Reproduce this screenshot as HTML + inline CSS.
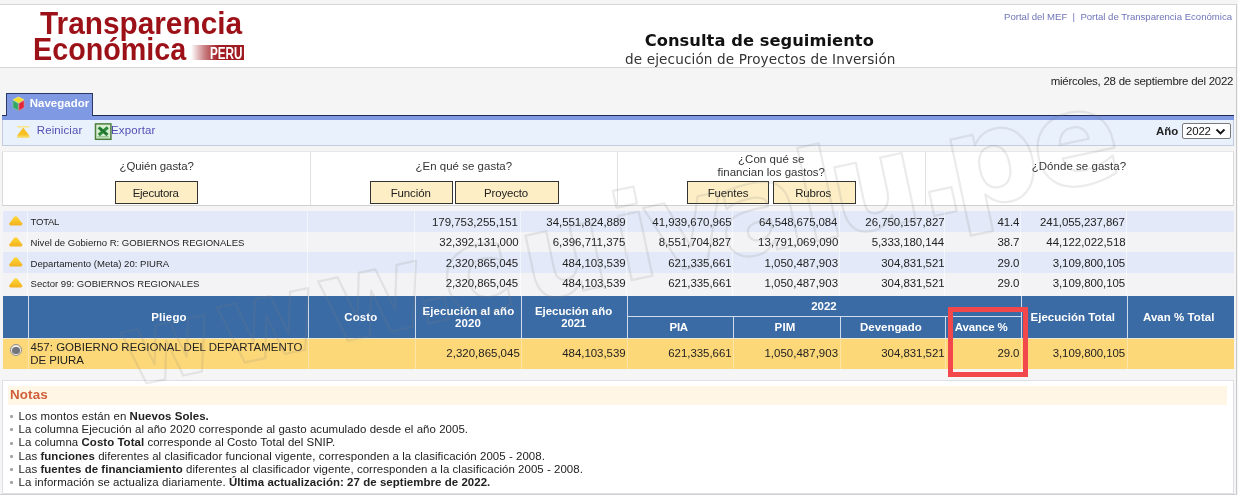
<!DOCTYPE html>
<html lang="es">
<head>
<meta charset="utf-8">
<title>Consulta de seguimiento de ejecución de Proyectos de Inversión</title>
<style>
*{box-sizing:border-box;margin:0;padding:0}
html,body{width:1238px;height:495px;overflow:hidden;background:#f5f5f5}
body{position:relative;font-family:"Liberation Sans",Arial,sans-serif;font-size:12px;color:#222}
.abs,.t{position:absolute;white-space:nowrap}
.t{transform-origin:0 0}
#hdr{left:0;top:4px;width:1237px;height:64px;background:#fff;border:1px solid #d6d6d6;border-left:0}
#tab{left:6px;top:93px;width:87px;height:23px;background:#7f99e2;border:1px solid #2c3766;border-bottom:0}
#tabline{left:2px;top:115px;width:1232px;height:5px;background:#7f99e2;border-top:1px solid #1d2a55}
#tool{left:2px;top:120px;width:1232px;height:26px;background:#e9f1fc;border:1px solid #c3cddd;border-top:0}
#panel{left:2px;top:151px;width:1232px;height:55px;background:#fff;border:1px solid #dcdcdc;border-top-color:#e8e8e8;border-bottom-color:#d0d0d0}
.btn{background:#fdeec5;border:1px solid #333;height:23px;top:181px}
.vd{width:1px;background:#e0e0e0;top:152px;height:53px}
.row{left:3px;width:1231px}
.r1{background:#e3e9f8}.r2{background:#f3f3f6}
.rd{top:211px;width:1px;height:85px;background:rgba(255,255,255,.55)}
#th{left:3px;top:296px;width:1231px;height:42px;background:#3a6ba5}
.hd{width:1px;background:#cfdcee}
#sel{left:3px;top:338px;width:1231px;height:31px;background:#fdd878;border-top:1px solid #ece6d4}
.sd{top:339px;width:1px;height:30px;background:rgba(255,255,255,.35)}
#notes{left:2px;top:380px;width:1232px;height:114px;background:#fff;border:1px solid #dde0e6}
#nb{left:8px;top:386px;width:1219px;height:19px;background:#fff6e6}
.bu{left:10px;width:3px;height:3px;background:#a4a4a4;border-radius:1px}
#red{left:948px;top:307px;width:80px;height:70px;border:5px solid #f2474b}
.f0{font:bold 32px/1 "Liberation Sans",Arial,sans-serif;color:#9c1118}
.f1{font:bold 16px/1 "Liberation Sans",Arial,sans-serif;color:#fff}
.f2{font:bold 16.3px/1 "DejaVu Sans","Liberation Sans",sans-serif;color:#111}
.f3{font:normal 13.6px/1 "DejaVu Sans","Liberation Sans",sans-serif;color:#333}
.f4{font:normal 9.6px/1 "Liberation Sans",Arial,sans-serif;color:#6f74b8}
.f5{font:normal 11.46px/1 "Liberation Sans",Arial,sans-serif;color:#222}
.f6{font:bold 11.46px/1 "Liberation Sans",Arial,sans-serif;color:#fff}
.f7{font:normal 11.46px/1 "Liberation Sans",Arial,sans-serif;color:#5250b4}
.f8{font:bold 11.46px/1 "Liberation Sans",Arial,sans-serif;color:#222}
.f9{font:normal 11.46px/1 "Liberation Sans",Arial,sans-serif;color:#111}
.f10{font:normal 11.46px/1 "Liberation Sans",Arial,sans-serif;color:#333}
.f11{font:normal 9.55px/1 "Liberation Sans",Arial,sans-serif;color:#222}
.f12{font:bold 13.4px/1 "Liberation Sans",Arial,sans-serif;color:#d0603a}
</style>
</head>
<body>
<svg width="0" height="0" style="position:absolute"><defs><linearGradient id="gy" x1="0" y1="0" x2="0" y2="1"><stop offset="0" stop-color="#fdd835"/><stop offset="1" stop-color="#f2b01e"/></linearGradient></defs></svg>
<div class="abs" id="hdr"></div>
<div class="abs" id="peru" style="left:191px;top:44.5px;width:53px;height:15.5px;background:linear-gradient(90deg,rgba(160,28,34,0) 0%,rgba(160,28,34,.55) 25%,#a01c22 52%)"></div>

<div class="abs" id="tabline"></div>
<div class="abs" id="tab"></div>
<div class="abs" id="tool"></div>
<svg class="abs" style="left:12px;top:96px" width="13" height="16" viewBox="0 0 13 16"><path d="M6.5 1 L12 3.8 L6.5 7 L1 3.8Z" fill="#f3de2a" stroke="#f6ea7a" stroke-width=".8" stroke-linejoin="round"/><path d="M1 4.4 L6.2 7.5 L6.2 14.6 L1 11.6Z" fill="#33a865" stroke="#7fcf9c" stroke-width=".6" stroke-linejoin="round"/><path d="M12 4.4 L6.9 7.5 L6.9 14.6 L12 11.6Z" fill="#e0243a" stroke="#f08a8a" stroke-width=".6" stroke-linejoin="round"/></svg>
<svg class="abs" style="left:16px;top:125px" width="15" height="14" viewBox="0 0 15 14"><rect x="1.2" y="1" width="12" height="1.6" rx=".6" fill="#fbe48a"/><path d="M7.2 3.2 L12.6 10.4 L1.8 10.4Z" fill="#f6c022" stroke="#f6c022" stroke-width="1" stroke-linejoin="round"/><rect x="1" y="10.4" width="12.6" height="2.4" rx="1" fill="#f9d75a"/></svg>
<svg class="abs" style="left:94px;top:123px" width="18" height="18" viewBox="0 0 18 18"><rect x="1.5" y=".9" width="15.4" height="15.4" fill="#d9eed2" stroke="#4d7f3c" stroke-width="1.5"/><path d="M4.6 4.4 L13.6 12 M13.8 4.4 L4.8 12" stroke="#2f8a3c" stroke-width="3.2"/><path d="M6 5.4 L12.4 11 " stroke="#1f6e2c" stroke-width="1.6"/><path d="M3.5 13.8 L14.8 13.8" stroke="#7fb97a" stroke-width="1"/></svg>
<div class="abs" id="selbox" style="left:1182px;top:123.4px;width:48.6px;height:15.6px;background:#fff;border:1px solid #7a7a7a;border-radius:2px"></div>
<svg class="abs" style="left:1215px;top:128px" width="11" height="8" viewBox="0 0 11 8"><path d="M1.5 1.5 L5.5 5.5 L9.5 1.5" fill="none" stroke="#111" stroke-width="1.8"/></svg>

<div class="abs" id="panel"></div>
<div class="abs vd" style="left:310px"></div>
<div class="abs vd" style="left:617px"></div>
<div class="abs vd" style="left:925px"></div>
<div class="abs btn" style="left:115px;width:83px"></div>
<div class="abs btn" style="left:370px;width:83px"></div>
<div class="abs btn" style="left:455px;width:104px"></div>
<div class="abs btn" style="left:687px;width:82px"></div>
<div class="abs btn" style="left:773px;width:83px"></div>

<div class="abs row r1" style="top:211px;height:21px"></div>
<svg class="abs" style="left:8px;top:216.4px" width="15" height="10" viewBox="-0.5 0 14.5 10" preserveAspectRatio="none"><path d="M7 0.3 Q8 0.3 9 1.6 L13.2 7.2 Q13.6 9.6 12 9.6 L2 9.6 Q0.4 9.6 0.8 7.2 L5 1.6 Q6 0.3 7 0.3Z" fill="url(#gy)"/></svg>
<div class="abs row r2" style="top:232px;height:20px"></div>
<svg class="abs" style="left:8px;top:237px" width="15" height="10" viewBox="-0.5 0 14.5 10" preserveAspectRatio="none"><path d="M7 0.3 Q8 0.3 9 1.6 L13.2 7.2 Q13.6 9.6 12 9.6 L2 9.6 Q0.4 9.6 0.8 7.2 L5 1.6 Q6 0.3 7 0.3Z" fill="url(#gy)"/></svg>
<div class="abs row r1" style="top:252px;height:21px"></div>
<svg class="abs" style="left:8px;top:257.4px" width="15" height="10" viewBox="-0.5 0 14.5 10" preserveAspectRatio="none"><path d="M7 0.3 Q8 0.3 9 1.6 L13.2 7.2 Q13.6 9.6 12 9.6 L2 9.6 Q0.4 9.6 0.8 7.2 L5 1.6 Q6 0.3 7 0.3Z" fill="url(#gy)"/></svg>
<div class="abs row r2" style="top:273px;height:23px"></div>
<svg class="abs" style="left:8px;top:278px" width="15" height="10" viewBox="-0.5 0 14.5 10" preserveAspectRatio="none"><path d="M7 0.3 Q8 0.3 9 1.6 L13.2 7.2 Q13.6 9.6 12 9.6 L2 9.6 Q0.4 9.6 0.8 7.2 L5 1.6 Q6 0.3 7 0.3Z" fill="url(#gy)"/></svg>
<div class="abs rd" style="left:27px"></div>
<div class="abs rd" style="left:307px"></div>
<div class="abs rd" style="left:414px"></div>
<div class="abs rd" style="left:520px"></div>
<div class="abs rd" style="left:626px"></div>
<div class="abs rd" style="left:732px"></div>
<div class="abs rd" style="left:839px"></div>
<div class="abs rd" style="left:944px"></div>
<div class="abs rd" style="left:1020px"></div>
<div class="abs rd" style="left:1126px"></div>
<div class="abs" id="th"></div>
<div class="abs" style="left:627px;top:316px;width:394px;height:1px;background:#cfdcee"></div>
<div class="abs" id="sel"></div>
<div class="abs hd" style="left:28px;top:296px;height:42px"></div>
<div class="abs sd" style="left:28px"></div>
<div class="abs hd" style="left:308px;top:296px;height:42px"></div>
<div class="abs sd" style="left:308px"></div>
<div class="abs hd" style="left:415px;top:296px;height:42px"></div>
<div class="abs sd" style="left:415px"></div>
<div class="abs hd" style="left:521px;top:296px;height:42px"></div>
<div class="abs sd" style="left:521px"></div>
<div class="abs hd" style="left:627px;top:296px;height:42px"></div>
<div class="abs sd" style="left:627px"></div>
<div class="abs hd" style="left:733px;top:316px;height:22px"></div>
<div class="abs sd" style="left:733px"></div>
<div class="abs hd" style="left:840px;top:316px;height:22px"></div>
<div class="abs sd" style="left:840px"></div>
<div class="abs hd" style="left:945px;top:316px;height:22px"></div>
<div class="abs sd" style="left:945px"></div>
<div class="abs hd" style="left:1021px;top:296px;height:42px"></div>
<div class="abs sd" style="left:1021px"></div>
<div class="abs hd" style="left:1127px;top:296px;height:42px"></div>
<div class="abs sd" style="left:1127px"></div>
<div class="abs" style="left:9.8px;top:343.9px;width:12.5px;height:12.5px;border-radius:50%;border:1.2px solid #8c8c8c;background:#f3efe6"></div><div class="abs" style="left:12.4px;top:346.5px;width:7.3px;height:7.3px;border-radius:50%;background:#73737a"></div>
<div class="abs" id="notes"></div>
<div class="abs" id="nb"></div>
<div class="abs bu" style="top:415px"></div>
<div class="abs bu" style="top:428px"></div>
<div class="abs bu" style="top:442px"></div>
<div class="abs bu" style="top:455px"></div>
<div class="abs bu" style="top:468px"></div>
<div class="abs bu" style="top:481px"></div>
<div class="t f0" style="left:40px;top:7px;transform:scaleX(0.9312)">Transparencia</div>
<div class="t f0" style="left:33.2px;top:33px;transform:scaleX(0.8976)">Económica</div>
<div class="t f1" style="left:210.27px;top:46px;transform:scaleX(0.7302)">PERU</div>
<div class="t f2" style="left:644.75px;top:33px;letter-spacing:0.045px">Consulta de seguimiento</div>
<div class="t f3" style="left:625px;top:53px;letter-spacing:0.122px">de ejecución de Proyectos de Inversión</div>
<div class="t f4" style="left:1004px;top:12px;letter-spacing:-0.01px">Portal del MEF &nbsp;|&nbsp; Portal de Transparencia Económica</div>
<div class="t f5" style="left:1050.7px;top:76px;letter-spacing:-0.234px">miércoles, 28 de septiembre del 2022</div>
<div class="t f6" style="left:29.7px;top:98px;letter-spacing:0.05px">Navegador</div>
<div class="t f7" style="left:36.8px;top:125px;letter-spacing:0.113px">Reiniciar</div>
<div class="t f7" style="left:111px;top:125px;letter-spacing:0.143px">Exportar</div>
<div class="t f8" style="left:1156px;top:126px">Año</div>
<div class="t f9" style="left:1186px;top:126px;letter-spacing:-0.167px">2022</div>
<div class="t f10" style="left:119.5px;top:161px;letter-spacing:-0.062px">¿Quién gasta?</div>
<div class="t f10" style="left:415.5px;top:161px;letter-spacing:0.031px">¿En qué se gasta?</div>
<div class="t f10" style="left:738px;top:154px;letter-spacing:0.075px">¿Con qué se</div>
<div class="t f10" style="left:717.5px;top:167px;letter-spacing:0.025px">financian los gastos?</div>
<div class="t f10" style="left:1031.75px;top:161px;letter-spacing:0.05px">¿Dónde se gasta?</div>
<div class="t f5" style="left:132.75px;top:188px;letter-spacing:-0.281px">Ejecutora</div>
<div class="t f5" style="left:390.75px;top:188px;letter-spacing:-0.125px">Función</div>
<div class="t f5" style="left:484px;top:188px;letter-spacing:-0.143px">Proyecto</div>
<div class="t f5" style="left:707.75px;top:188px;letter-spacing:-0.125px">Fuentes</div>
<div class="t f5" style="left:795.25px;top:188px;letter-spacing:-0.2px">Rubros</div>
<div class="t f11" style="left:30.6px;top:217px;letter-spacing:-0.275px">TOTAL</div>
<div class="t f5" style="left:431.92px;top:217px;letter-spacing:0.006px">179,753,255,151</div>
<div class="t f5" style="left:546.29px;top:217px;letter-spacing:-0.022px">34,551,824,889</div>
<div class="t f5" style="left:652.29px;top:217px;letter-spacing:-0.022px">41,939,670,965</div>
<div class="t f5" style="left:759.09px;top:217px;letter-spacing:-0.099px">64,548,675,084</div>
<div class="t f5" style="left:865.29px;top:217px;letter-spacing:-0.022px">26,750,157,827</div>
<div class="t f5" style="left:997.61px;top:217px;letter-spacing:-0.203px">41.4</div>
<div class="t f5" style="left:1039.92px;top:217px;letter-spacing:-0.066px">241,055,237,867</div>
<div class="t f11" style="left:30.6px;top:238px">Nivel de Gobierno R: GOBIERNOS REGIONALES</div>
<div class="t f5" style="left:439.29px;top:237px;letter-spacing:-0.022px">32,392,131,000</div>
<div class="t f5" style="left:552.66px;top:237px;letter-spacing:0.028px">6,396,711,375</div>
<div class="t f5" style="left:658.66px;top:237px;letter-spacing:-0.055px">8,551,704,827</div>
<div class="t f5" style="left:758.09px;top:237px;letter-spacing:0.055px">13,791,069,090</div>
<div class="t f5" style="left:871.66px;top:237px;letter-spacing:-0.055px">5,333,180,144</div>
<div class="t f5" style="left:997.61px;top:237px;letter-spacing:-0.203px">38.7</div>
<div class="t f5" style="left:1046.29px;top:237px;letter-spacing:-0.022px">44,122,022,518</div>
<div class="t f11" style="left:30.6px;top:259px;letter-spacing:0.005px">Departamento (Meta) 20: PIURA</div>
<div class="t f5" style="left:445.66px;top:258px;letter-spacing:-0.055px">2,320,865,045</div>
<div class="t f5" style="left:562.21px;top:258px;letter-spacing:-0.021px">484,103,539</div>
<div class="t f5" style="left:668.21px;top:258px;letter-spacing:-0.021px">621,335,661</div>
<div class="t f5" style="left:764.46px;top:258px;letter-spacing:0.028px">1,050,487,903</div>
<div class="t f5" style="left:881.21px;top:258px;letter-spacing:-0.021px">304,831,521</div>
<div class="t f5" style="left:997.61px;top:258px;letter-spacing:-0.203px">29.0</div>
<div class="t f5" style="left:1052.66px;top:258px;letter-spacing:-0.055px">3,109,800,105</div>
<div class="t f11" style="left:30.6px;top:279px;letter-spacing:0.005px">Sector 99: GOBIERNOS REGIONALES</div>
<div class="t f5" style="left:445.66px;top:278px;letter-spacing:-0.055px">2,320,865,045</div>
<div class="t f5" style="left:562.21px;top:278px;letter-spacing:-0.021px">484,103,539</div>
<div class="t f5" style="left:668.21px;top:278px;letter-spacing:-0.021px">621,335,661</div>
<div class="t f5" style="left:764.46px;top:278px;letter-spacing:0.028px">1,050,487,903</div>
<div class="t f5" style="left:881.21px;top:278px;letter-spacing:-0.021px">304,831,521</div>
<div class="t f5" style="left:997.61px;top:278px;letter-spacing:-0.203px">29.0</div>
<div class="t f5" style="left:1052.66px;top:278px;letter-spacing:-0.055px">3,109,800,105</div>
<div class="t f5" style="left:446.36px;top:348px;letter-spacing:0.012px">2,320,865,045</div>
<div class="t f5" style="left:562.21px;top:348px;letter-spacing:-0.021px">484,103,539</div>
<div class="t f5" style="left:668.21px;top:348px;letter-spacing:-0.021px">621,335,661</div>
<div class="t f5" style="left:764.46px;top:348px;letter-spacing:0.028px">1,050,487,903</div>
<div class="t f5" style="left:881.21px;top:348px;letter-spacing:-0.021px">304,831,521</div>
<div class="t f5" style="left:997.61px;top:348px;letter-spacing:-0.203px">29.0</div>
<div class="t f5" style="left:1052.66px;top:348px;letter-spacing:-0.055px">3,109,800,105</div>
<div class="t f6" style="left:151.25px;top:312px;letter-spacing:0.2px">Pliego</div>
<div class="t f6" style="left:344.25px;top:312px;letter-spacing:0.125px">Costo</div>
<div class="t f6" style="left:422.5px;top:306px;letter-spacing:0.083px">Ejecución al año</div>
<div class="t f6" style="left:455px;top:318px;letter-spacing:0.167px">2020</div>
<div class="t f6" style="left:535px;top:306px;letter-spacing:-0.042px">Ejecución año</div>
<div class="t f6" style="left:561.25px;top:318px;letter-spacing:-0.167px">2021</div>
<div class="t f6" style="left:811.25px;top:301px">2022</div>
<div class="t f6" style="left:669.5px;top:322px;letter-spacing:-0.25px">PIA</div>
<div class="t f6" style="left:774.5px;top:322px;letter-spacing:0.25px">PIM</div>
<div class="t f6" style="left:860px;top:322px">Devengado</div>
<div class="t f6" style="left:954.75px;top:322px;letter-spacing:-0.107px">Avance %</div>
<div class="t f6" style="left:1030.5px;top:312px;letter-spacing:0.054px">Ejecución Total</div>
<div class="t f6" style="left:1143px;top:312px;letter-spacing:0.068px">Avan % Total</div>
<div class="t f5" style="left:30.5px;top:342px;letter-spacing:0.033px">457: GOBIERNO REGIONAL DEL DEPARTAMENTO</div>
<div class="t f5" style="left:30.3px;top:355px;letter-spacing:-0.079px">DE PIURA</div>
<div class="t f12" style="left:10px;top:388px;letter-spacing:0.125px">Notas</div>
<div class="t f5" style="left:18.6px;top:411px;letter-spacing:0.075px">Los montos están en <b>Nuevos Soles.</b></div>
<div class="t f5" style="left:18.6px;top:424px;letter-spacing:0.054px">La columna Ejecución al año 2020 corresponde al gasto acumulado desde el año 2005.</div>
<div class="t f5" style="left:18.6px;top:437px;letter-spacing:0.047px">La columna <b>Costo Total</b> corresponde al Costo Total del SNIP.</div>
<div class="t f5" style="left:18.6px;top:451px;letter-spacing:0.047px">Las <b>funciones</b> diferentes al clasificador funcional vigente, corresponden a la clasificación 2005 - 2008.</div>
<div class="t f5" style="left:18.6px;top:464px;letter-spacing:0.043px">Las <b>fuentes de financiamiento</b> diferentes al clasificador vigente, corresponden a la clasificación 2005 - 2008.</div>
<div class="t f5" style="left:18.6px;top:477px;letter-spacing:0.051px">La información se actualiza diariamente. <b>Última actualización: 27 de septiembre de 2022.</b></div>
<svg class="abs" id="wm" style="left:0;top:0;pointer-events:none" width="1238" height="495" viewBox="0 0 1238 495"><text transform="translate(127 387.5) rotate(-12)" y="0" font-family="DejaVu Sans,Liberation Sans,sans-serif" font-weight="bold" font-size="120" fill="none" stroke="#808080" stroke-opacity=".16" stroke-width="2.2" stroke-linejoin="round"><tspan x="2" font-size="100">w</tspan><tspan x="101" font-size="109">w</tspan><tspan x="205" font-size="117">w</tspan><tspan x="296 330 412 506">.cui</tspan><tspan x="540 612 695 728" font-size="125">valu</tspan><tspan x="812 846 934" font-size="130">.pe</tspan></text></svg>
<div class="abs" id="red"></div>
<div class="abs" style="left:1236px;top:5px;width:1px;height:490px;background:#c9c9c9"></div>
<div class="abs" style="left:0;top:494px;width:1237px;height:1px;background:#cfcfcf"></div>
</body>
</html>
